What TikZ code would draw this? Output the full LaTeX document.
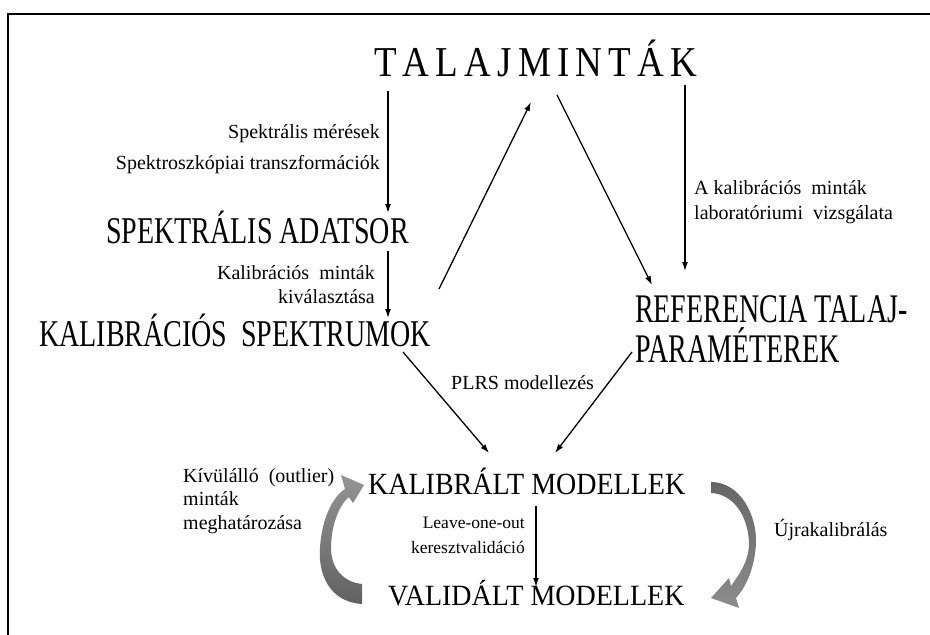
\documentclass[tikz,border=0pt]{standalone}
\usepackage{graphicx}
\usepackage{fontspec}
\setmainfont{Liberation Serif}
\usetikzlibrary{arrows.meta,calc}
\newcommand\fsz[1]{\fontsize{#1}{#1}\selectfont}
\newcommand\lsp{\kern6.2pt}
\newcommand\vst[2]{\scalebox{1}[#1]{#2}}
\tikzset{
  big/.style={inner sep=0pt,font=\fsz{28}},
  lbl/.style={inner sep=0pt,font=\fsz{20}},
  arr/.style={line width=1.3pt,-{Latex[length=9pt,width=6pt]}},
}
\begin{document}
\begin{tikzpicture}[x=1pt,y=-1pt]
\useasboundingbox (0,0) rectangle (930,635);
\fill[white] (0,0) rectangle (930,635);
\draw[line width=2pt] (8,640) -- (8,14) -- (935,14);

\node[inner sep=0pt,font=\fsz{37},anchor=base west] (tal) at (374,76) {\vst{1.15}{T\lsp A\lsp L\lsp A\lsp J\lsp M\lsp I\lsp N\lsp T\lsp Á\lsp K}};
\node[lbl,anchor=base east] (sm1) at (380,138) {Spektrális mérések};
\node[lbl,anchor=base east] (sm2) at (380,169) {Spektroszkópiai transzformációk};
\node[big,anchor=base west] (sad) at (106,243) {\vst{1.35}{SPEKTRÁLIS ADATSOR}};
\node[lbl,anchor=base east] (km1) at (375,279) {Kalibrációs\ \ minták};
\node[lbl,anchor=base east] (km2) at (375,303) {kiválasztása};
\node[big,anchor=base west] (ksp) at (39,346) {\vst{1.35}{KALIBRÁCIÓS\ \ SPEKTRUMOK}};
\node[lbl,anchor=base west] (ak1) at (694,194) {A kalibrációs\ \ minták};
\node[lbl,anchor=base west] (ak2) at (694,219) {laboratóriumi\ \ vizsgálata};
\node[big,anchor=base west] (ref1) at (635,322) {\vst{1.45}{REFERENCIA TALAJ-}};
\node[big,anchor=base west] (ref2) at (635,362) {\vst{1.45}{PARAMÉTEREK}};
\node[lbl,anchor=base west] (plrs) at (451,389) {PLRS modellezés};
\node[big,anchor=base west] (kal) at (368,494) {\vst{1.1}{KALIBRÁLT MODELLEK}};
\node[lbl,anchor=base west] (ki1) at (183,482) {Kívülálló\ \ (outlier)};
\node[lbl,anchor=base west] (ki2) at (183,505) {minták};
\node[lbl,anchor=base west] (ki3) at (183,529) {meghatározása};
\node[inner sep=0pt,font=\fsz{17.5},anchor=base east] (lo1) at (525,528) {Leave-one-out};
\node[inner sep=0pt,font=\fsz{17.5},anchor=base east] (lo2) at (525,553) {keresztvalidáció};
\node[lbl,anchor=base west] (uj) at (774,536) {Újrakalibrálás};
\node[big,anchor=base west] (val) at (388,605) {\vst{1.05}{VALIDÁLT MODELLEK}};

\draw[arr] ($(tal.base west)+(14,15)$) -- ($(sad.base west)+(282,-30)$);
\draw[arr] ($(sad.base west)+(282,8)$) -- ($(ksp.base west)+(349,-28)$);
\draw[arr] ($(ksp.base west)+(400,-57)$) -- ($(tal.base west)+(157,26)$);
\draw[arr] ($(tal.base west)+(183,19)$) -- ($(ref1.base west)+(17,-37)$);
\draw[arr] ($(tal.base west)+(311,9)$) -- ($(ref1.base west)+(50,-51)$);
\draw[arr] ($(ksp.base west)+(364,6)$) -- ($(kal.base west)+(121,-41)$);
\draw[arr] ($(ref2.base west)+(-3,-10)$) -- ($(kal.base west)+(187,-41)$);
\draw[arr] ($(kal.base west)+(168,12)$) -- ($(val.base west)+(148,-18)$);

% left grey curved arrow
\shade[top color=black!42,bottom color=black!62]
  (362,604) .. controls (330,602) and (318,575) .. (320,548)
  .. controls (322,516) and (334,496) .. (345,489)
  -- (341,475) -- (364,485) -- (353,503) -- (349,497)
  .. controls (339,505) and (331,526) .. (331,548)
  .. controls (331,568) and (343,582) .. (362,584) -- cycle;
% right grey curved arrow
\shade[top color=black!60,bottom color=black!45]
  (711,482) .. controls (740,482) and (757,515) .. (756,543)
  .. controls (755,566) and (747,586) .. (736,598)
  -- (739,608) -- (711,598) -- (729,578) -- (731,586)
  .. controls (741,572) and (749,560) .. (749,543)
  .. controls (748,515) and (733,494) .. (711,493) -- cycle;
\end{tikzpicture}
\end{document}
